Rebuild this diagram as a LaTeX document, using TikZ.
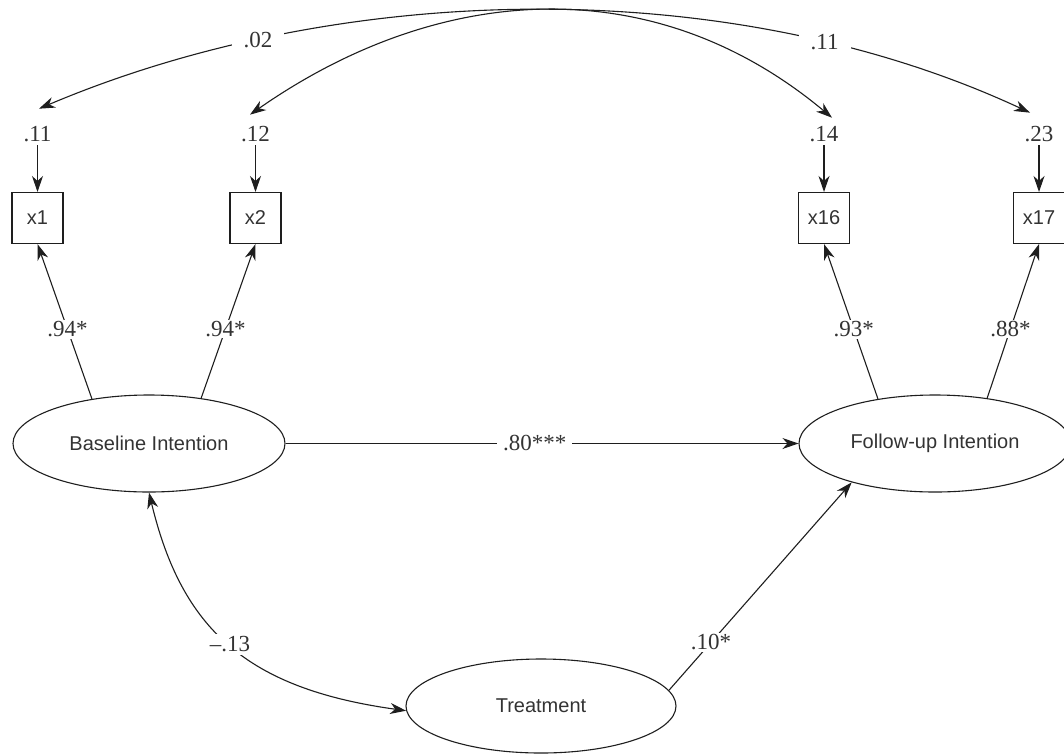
\documentclass[tikz,border=0pt]{standalone}
\usepackage{fontspec}
\setmainfont{Liberation Serif}
\newfontfamily\labsans{Liberation Sans}
\usetikzlibrary{arrows.meta,shapes.geometric,calc}
\definecolor{ink}{HTML}{1E1E1E}
\definecolor{txt}{HTML}{333333}
\tikzset{
  obs/.style={draw=ink, rectangle, minimum size=51pt, inner sep=0pt,
    font=\labsans\fontsize{20}{24}\selectfont, text=txt},
  lat/.style={draw=ink, ellipse, minimum width=272pt, minimum height=97pt, inner sep=0pt,
    font=\labsans\fontsize{20}{24}\selectfont, text=txt},
  num/.style={font=\fontsize{23}{27}\selectfont, text=txt, inner sep=3pt},
  lbl/.style={num, fill=white},
  tipshape/.tip={Stealth[length=16pt,width=11pt,inset=5pt]},
  arr/.style={draw=ink, -tipshape},
  darr/.style={draw=ink, tipshape-tipshape},
}
\begin{document}
\begin{tikzpicture}[x=1pt,y=-1pt,line width=1.1pt]
\useasboundingbox (0,0) rectangle (1064,755);
\clip (0,0) rectangle (1064,755);
\fill[white] (0,0) rectangle (1064,755);

% observed indicators
\node[obs] (x1)  at (37.5,218) {x1};
\node[obs] (x2)  at (255.5,218) {x2};
\node[obs] (x16) at (824,218) {x16};
\node[obs] (x17) at (1039,218) {x17};

% error variances
\node[num] (e1)  at (37.5,134) {.11};
\node[num] (e2)  at (255.5,134) {.12};
\node[num] (e16) at (824,134) {.14};
\node[num] (e17) at (1039,134) {.23};

% latent variables
\node[lat] (bi) at (149,443.5) {Baseline Intention};
\node[lat] (fi) at (935,443.5) {Follow-up Intention};
\node[lat, minimum width=270pt, minimum height=94pt] (tr) at (541,706) {Treatment};

% error arrows
\draw[arr] (e1) -- (x1);
\draw[arr] (e2) -- (x2);
\draw[arr] (e16) -- (x16);
\draw[arr] (e17) -- (x17);

% loadings
\draw[arr] (bi.142) -- (x1.south) node[lbl, inner sep=1.5pt, pos=0.45] {.94*};
\draw[arr] (bi.41) -- (x2.south) node[lbl, inner sep=1.5pt, pos=0.45] {.94*};
\draw[arr] (fi.142) -- (x16.south) node[lbl, inner sep=1.5pt, pos=0.45] {.93*};
\draw[arr] (fi.41) -- (x17.south) node[lbl, inner sep=1.5pt, pos=0.45] {.88*};

% structural paths
\draw[arr] (bi.east) -- (fi.west) node[lbl, inner xsep=6pt, pos=0.486] {.80***};
\draw[arr] (tr.7) -- (fi.205) node[lbl, inner sep=2pt, pos=0.23] {.10*};
\draw[darr] (bi.south) .. controls (181.6,629) and (246.6,688.6) .. (tr.182)
  node[lbl, inner sep=3pt, pos=0.5] {--.13};

% error covariances
\draw[darr] ($(e1.north)+(1.5,-14)$) .. controls (343,-20) and (731,-26.5) .. ($(e17.north)+(-9,-10)$)
  node[lbl, inner xsep=12pt, pos=0.228] {.02}
  node[lbl, inner xsep=12pt, pos=0.783] {.11};
\draw[darr] ($(e2.north)+(-5.5,-8)$) .. controls (440,-18) and (654,-31) .. ($(e16.north)+(8,-5)$);
\end{tikzpicture}
\end{document}
